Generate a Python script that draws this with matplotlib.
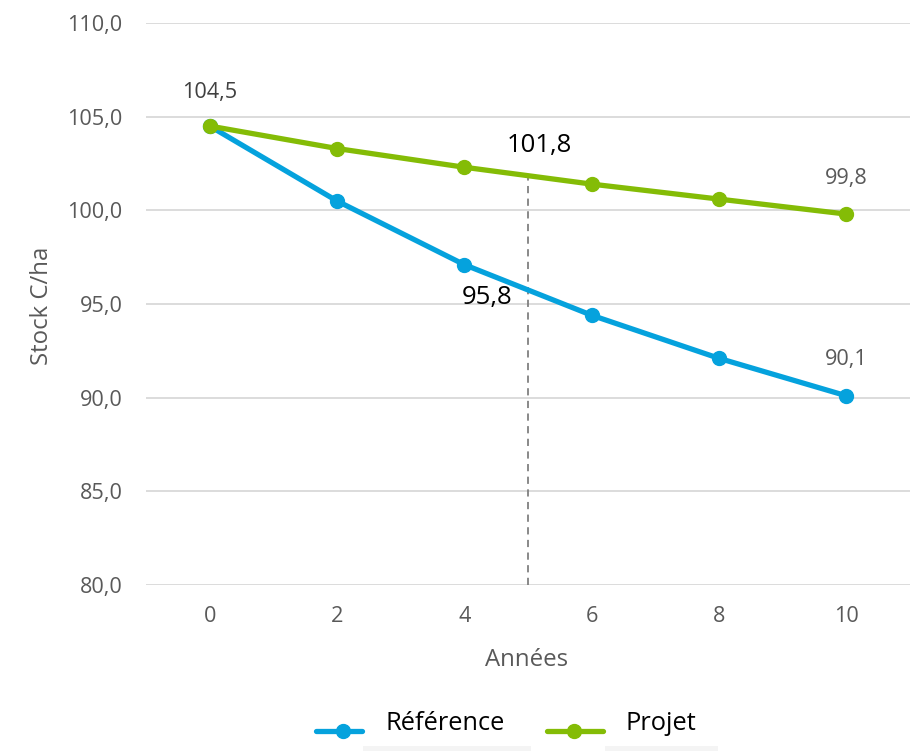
import matplotlib
matplotlib.use("Agg")
import matplotlib.pyplot as plt
from matplotlib.lines import Line2D
from matplotlib.patches import Rectangle

# Carbon stock per hectare over the years, two scenarios
annees = [0, 2, 4, 6, 8, 10]
reference = [104.5, 100.5, 97.1, 94.4, 92.1, 90.1]
projet = [104.5, 103.3, 102.3, 101.4, 100.6, 99.8]
annee_mi = 5
projet_mi = 101.8
reference_mi = 95.8
yticks = [80, 85, 90, 95, 100, 105, 110]
series_names = ["Référence", "Projet"]

BLUE = "#05A2DD"
GREEN = "#84BC06"
GRAY_TXT = "#595959"

plt.rcParams["font.family"] = ["Open Sans", "DejaVu Sans"]

W, H = 920, 751
fig = plt.figure(figsize=(W / 100, H / 100), dpi=100)
ax = fig.add_axes([146 / W, 1 - 585 / H, (910 - 146) / W, (585 - 23) / H])


def fx(px):
    return px / W


def fy(py):
    return 1 - py / H


def fmt(v):
    return f"{v:.1f}".replace(".", ",")


ax.set_xlim(-1, 11)
ax.set_ylim(80, 110)
ax.set_yticks(yticks)
ax.set_yticklabels([fmt(v) for v in yticks])
ax.set_xticks(annees)
ax.set_xticklabels([str(a) for a in annees])
ax.grid(axis="y", color="#d9d9d9", linewidth=1.3)
ax.set_axisbelow(True)
for s in ax.spines.values():
    s.set_visible(False)
ax.tick_params(length=0, labelsize=15.6, colors=GRAY_TXT)
ax.tick_params(axis="x", pad=15)
ax.tick_params(axis="y", pad=17)

ax.plot(annees, reference, color=BLUE, lw=3.8, marker="o", ms=10, zorder=3)
ax.plot(annees, projet, color=GREEN, lw=3.8, marker="o", ms=10, zorder=4)

# Mid-period marker line
ax.plot([annee_mi, annee_mi], [80, projet_mi], color="#808080", lw=1.3,
        ls=(0, (4, 3)), zorder=2)

ax.annotate(fmt(projet[0]), (annees[0], projet[0]), xytext=(0, 24.5),
            textcoords="offset points", ha="center", va="center",
            fontsize=15.6, color="#404040")
ax.annotate(fmt(projet[-1]), (annees[-1], projet[-1]), xytext=(0, 25.5),
            textcoords="offset points", ha="center", va="center",
            fontsize=15.6, color=GRAY_TXT)
ax.annotate(fmt(reference[-1]), (annees[-1], reference[-1]), xytext=(0, 26),
            textcoords="offset points", ha="center", va="center",
            fontsize=15.6, color=GRAY_TXT)
ax.annotate(fmt(projet_mi), (annee_mi, projet_mi), xytext=(8, 22.5),
            textcoords="offset points", ha="center", va="center",
            fontsize=18.5, color="black")
ax.annotate(fmt(reference_mi), (annee_mi, reference_mi), xytext=(-29.5, -5.8),
            textcoords="offset points", ha="center", va="center",
            fontsize=18.5, color="black")

# Axis titles
fig.text(fx(42), fy(306), "Stock C/ha", rotation=90, ha="center", va="center",
         fontsize=17.3, color=GRAY_TXT)
fig.text(fx(527), fy(660), "Années", ha="center", va="center",
         fontsize=17.3, color=GRAY_TXT)

# Legend at the bottom
leg_items = [
    (BLUE, 316, 362, 343, 363, 531, 386),
    (GREEN, 547, 603, 574, 605, 718, 626),
]
for (col, x0, x1, xm, bx0, bx1, tx), name in zip(leg_items, series_names):
    fig.add_artist(Rectangle((fx(bx0), fy(751)), fx(bx1) - fx(bx0),
                             fy(746) - fy(751), transform=fig.transFigure,
                             facecolor="#f4f4f4", edgecolor="none"))
    fig.add_artist(Line2D([fx(x0), fx(x1)], [fy(731), fy(731)],
                          transform=fig.transFigure, color=col, lw=3.8,
                          solid_capstyle="round"))
    fig.add_artist(Line2D([fx(xm)], [fy(731)], transform=fig.transFigure,
                          color=col, marker="o", ms=10, lw=0))
    fig.text(fx(tx), fy(723), name, ha="left", va="center", fontsize=18.3,
             color="black")

fig.savefig("out.png", dpi=100, facecolor="white")
